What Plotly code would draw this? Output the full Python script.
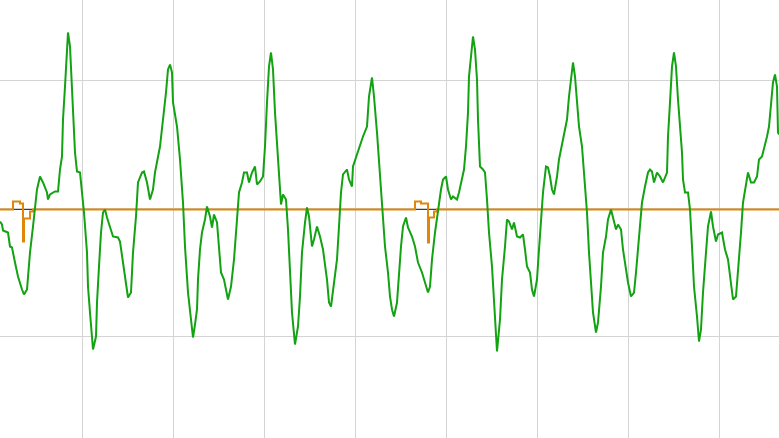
import plotly.graph_objects as go

# Green signal: sample index and amplitude
green_x = [0, 2, 3, 8, 10, 12, 15, 18, 22, 24, 27, 30, 33, 35, 37, 40, 43, 47, 48, 50, 55, 58, 60, 62, 63, 65, 67, 68, 70, 72,
           75, 77, 80, 82, 84, 87, 88, 90, 92, 93, 96, 97, 99, 101, 103, 105, 107, 110, 113, 118, 120, 123, 127, 128, 131, 133, 136, 138, 142, 144,
           147, 150, 153, 155, 160, 163, 166, 168, 170, 172, 173, 177, 180, 183, 185, 188, 192, 193, 195,
           197, 198, 200, 202, 205, 207, 210, 212, 214, 217, 219, 221, 224, 227, 228, 231, 234, 237, 239, 242, 244, 247, 249, 252, 255, 257,
           260, 263, 265, 267, 269, 271, 273, 275, 277, 279, 281, 283, 286, 288, 290, 292, 295, 298, 300, 302, 305, 307, 309, 312, 314,
           317, 320, 323, 327, 329, 331, 333, 337, 339, 341, 343, 347, 349, 352, 353, 357, 360, 363, 367, 369, 372, 374, 377, 379, 381,
           383, 385, 388, 390,
           392, 394, 397, 399, 401, 403, 406, 408, 412, 415, 418, 422, 425, 428, 430, 432, 435, 438, 441, 443, 446, 448, 451, 453, 457,
           459, 462, 464, 466, 468, 469, 472, 473, 475, 477, 478, 480, 483, 485, 487, 489, 492, 494, 496, 497, 500, 502, 505, 507, 509,
           512, 514, 517, 520, 523, 525, 527, 530, 532, 534, 537, 539, 541, 543, 546, 548, 550, 552, 554, 557, 559, 562, 564, 567, 569,
           572, 573, 575, 577, 579, 582, 584, 585,
           587, 589, 591, 593, 596, 598, 601, 603, 606, 608, 611, 613, 616, 618, 621, 623, 626, 628, 631, 634, 636, 638, 640, 642, 645,
           648, 650, 652, 654, 657, 660, 663, 667, 668, 670, 672, 674, 676, 678, 680, 682, 683, 685, 688, 690, 692, 694, 697, 699, 701,
           703, 706, 708, 711, 713, 716, 718, 722, 725, 728, 731, 733, 736, 738, 741, 743, 746, 748, 751, 754, 757, 759, 762, 764, 767,
           769, 771, 773, 775, 777, 778, 779]
green_y = [-13, -16, -22, -24, -38, -39, -54, -68, -81, -86, -81, -44, -18, 2, 19, 32, 26, 16, 9, 14, 17, 17, 39, 52, 89, 122, 166, 176, 162, 122,
           56, 37, 36, 16, -4, -44, -78, -104, -131, -141, -128, -94, -58, -24, -4, -1, -9, -18, -28, -29, -33, -54, -84, -89, -84, -44, -8, 26, 36, 37,
           26, 9, 19, 36, 62, 86, 116, 139, 144, 136, 106, 82, 49, 6, -38, -84, -124, -129, -116,
           -101, -71, -41, -24, -11, 2, -8, -19, -6, -14, -38, -64, -71, -86, -91, -78, -51, -11, 16, 26, 36, 36, 26, 36, 42, 24,
           27, 32, 62, 106, 142, 156, 139, 96, 62, 29, 4, 14, 9, -21, -64, -104, -136, -118, -88, -44, -14, 1, -8, -38, -31,
           -18, -28, -41, -71, -94, -98, -81, -51, -18, 16, 34, 39, 29, 22, 42, 54, 64, 72, 82, 112, 131, 112, 76, 49, 22,
           -1, -38, -64, -88,
           -101, -108, -94, -64, -38, -18, -9, -19, -28, -38, -54, -64, -74, -84, -78, -51, -24, -1, 19, 29, 32, 19, 9, 12, 9,
           16, 29, 39, 62, 96, 132, 166, 172, 159, 129, 89, 42, 39, 36, 9, -24, -58, -98, -128, -143, -111, -71, -38, -11, -13,
           -21, -14, -28, -29, -26, -41, -58, -64, -81, -88, -71, -41, -11, 16, 42, 41, 32, 19, 14, 32, 49, 64, 71, 89, 112,
           139, 146, 132, 106, 82, 62, 39, 19,
           -4, -44, -78, -104, -124, -114, -78, -44, -28, -11, -1, -8, -21, -16, -21, -41, -64, -74, -88, -84, -64, -38, -11, 6, 22,
           36, 39, 37, 26, 36, 32, 26, 36, 72, 106, 142, 156, 142, 109, 82, 56, 29, 16, 16, -1, -38, -78, -108, -133, -121,
           -84, -44, -18, -3, -18, -33, -26, -24, -41, -51, -74, -91, -88, -64, -24, 6, 26, 36, 26, 26, 32, 49, 52, 59, 72,
           82, 102, 126, 134, 122, 76, 74]

# Orange signal (step changes)
orange_x = [0, 13, 20, 23, 24, 30, 33, 415, 421, 428, 429, 434, 437, 779]
orange_y = [-1, 7, 5, -33, -10, -3, -1, 7, 5, -34, -9, -3, -1, -1]

# Dark reference trace
ref_x = [0, 779]
ref_y = [-1, -1]

fig = go.Figure()
fig.add_trace(go.Scatter(x=ref_x, y=ref_y, mode="lines",
                         line=dict(color="#3c3c3c", width=1), hoverinfo="skip"))
fig.add_trace(go.Scatter(x=orange_x, y=orange_y, mode="lines",
                         line=dict(color="#e0870a", width=2, shape="hv")))
fig.add_trace(go.Scatter(x=green_x, y=green_y, mode="lines",
                         line=dict(color="#12a212", width=2)))

fig.update_layout(
    width=779, height=438,
    margin=dict(l=0, r=0, t=0, b=0),
    paper_bgcolor="white", plot_bgcolor="white",
    showlegend=False,
)
fig.update_xaxes(range=[0, 779], tick0=82.4, dtick=91, showgrid=True,
                 gridcolor="#d4d4d4", gridwidth=1, showticklabels=False,
                 zeroline=False, showline=False, ticks="")
fig.update_yaxes(range=[-229.5, 208.5], tick0=0, dtick=128, showgrid=True,
                 gridcolor="#d4d4d4", gridwidth=1, showticklabels=False,
                 zeroline=True, zerolinecolor="#cfcfcf", zerolinewidth=2,
                 showline=False, ticks="")

fig.write_html("out.html", config={"displayModeBar": False},
               post_script="document.body.style.margin='0';document.body.style.overflow='hidden';")
